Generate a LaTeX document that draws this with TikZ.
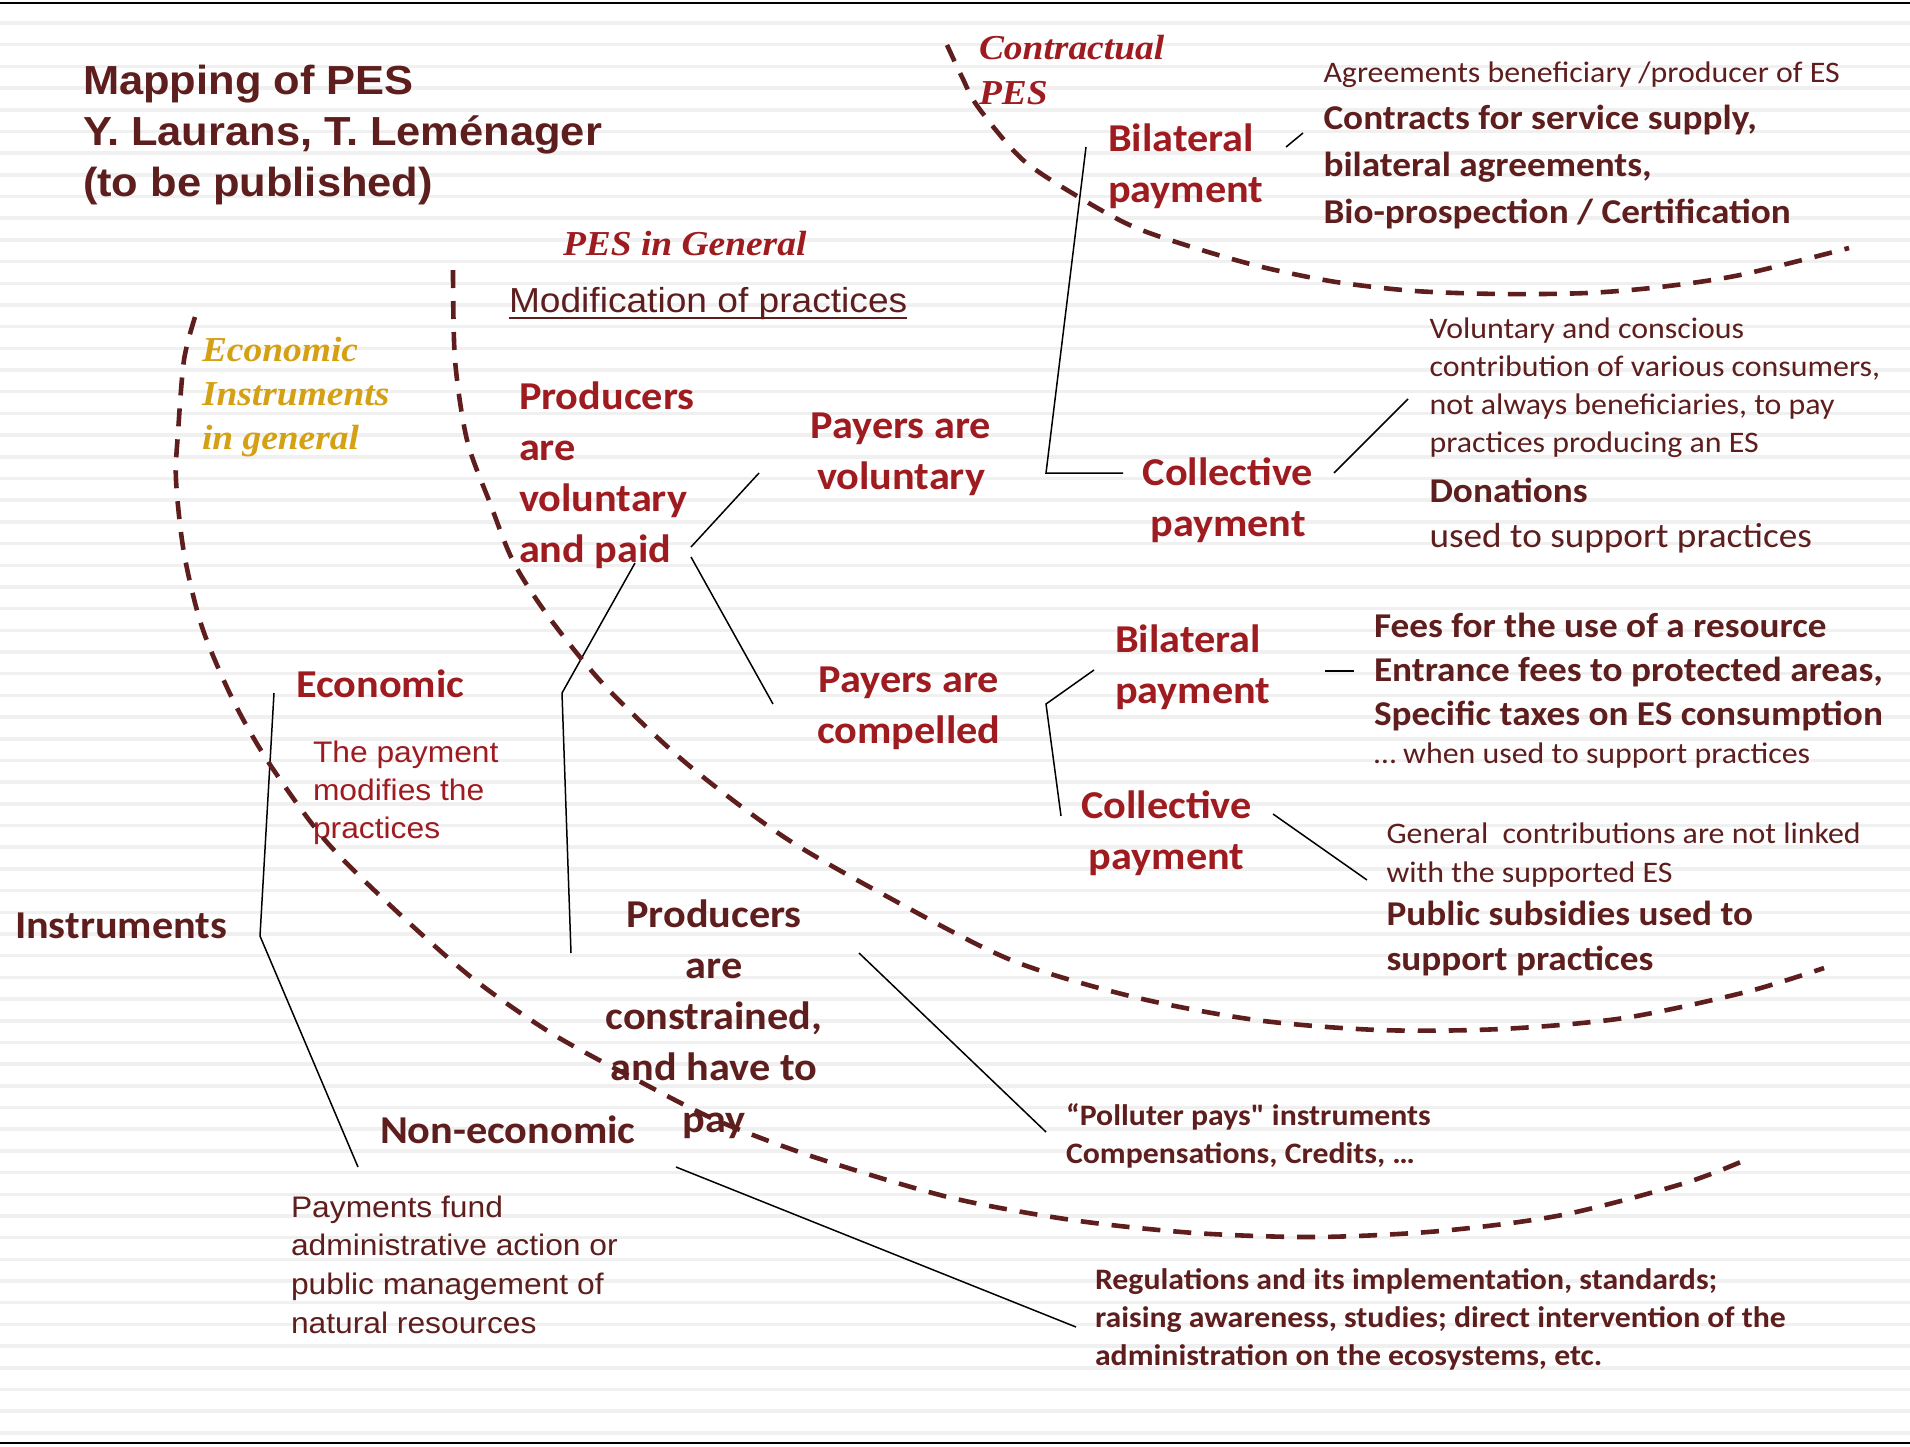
\documentclass[tikz,border=0pt]{standalone}
\usepackage{fontspec}
\newfontfamily\fsans{Liberation Sans}[FakeStretch=1.07]
\newfontfamily\fser{Liberation Serif}[FakeStretch=1.07]
\newfontfamily\fcal{Carlito}[FakeStretch=1.07]
\definecolor{dbrown}{RGB}{94,30,30}
\definecolor{pesred}{RGB}{158,27,32}
\definecolor{gold}{RGB}{212,160,20}
\tikzset{
  every node/.style={inner sep=0pt, outer sep=0pt},
  ttl/.style={font=\fsans\bfseries\fontsize{40.6}{51}\selectfont, text=dbrown, align=left, anchor=base west},
  itl/.style={font=\fser\bfseries\itshape\fontsize{35}{45}\selectfont, align=left, anchor=base west},
  bigl/.style={font=\fcal\bfseries\fontsize{39.5}{51.3}\selectfont, align=left, anchor=base west},
  bigc/.style={font=\fcal\bfseries\fontsize{39.5}{51.3}\selectfont, align=center, anchor=base},
  arl/.style={font=\fsans\fontsize{29.7}{38.4}\selectfont, align=left, anchor=base west},
  sreg/.style={font=\fcal\fontsize{29.8}{38.3}\selectfont, text=dbrown, align=left, anchor=base west},
  sbold/.style={font=\fcal\bfseries\fontsize{29.7}{38}\selectfont, text=dbrown, align=left, anchor=base west},
  mbold/.style={font=\fcal\bfseries\fontsize{34.8}{47}\selectfont, text=dbrown, align=left, anchor=base west},
  conn/.style={line width=1.5pt, black},
  dasharc/.style={line width=4.6pt, dbrown, dash pattern=on 18pt off 13pt},
  stripe/.style={line width=3.5pt, black!6},
}
\begin{document}
\begin{tikzpicture}[x=1pt,y=-1pt]
\useasboundingbox (0,0) rectangle (1910,1446);
\fill[white] (0,0) rectangle (1910,1446);
\foreach \k in {0,...,65} \draw[stripe] (0,23+21.69*\k) -- (1910,23+21.69*\k);
\draw[line width=2pt] (0,3) -- (1910,3);
\draw[line width=2pt] (0,1443) -- (1910,1443);

% titles and headings (multi-line nodes: base = last line)
\node[ttl] (title) at (83,196) {Mapping of PES\\Y. Laurans, T. Leménager\\(to be published)};
\node[itl, text=pesred] (contract) at (979,104) {Contractual\\PES};
\node[itl, text=pesred] (pesgen) at (563,255) {PES in General};
\node[itl, text=gold, font=\fser\bfseries\itshape\fontsize{35}{44}\selectfont] (econinst) at (202,449) {Economic\\Instruments\\in general};
\node[font=\fsans\fontsize{34.7}{40}\selectfont, text=dbrown, anchor=base west] (modif) at (509,312) {Modification of practices};
\draw[dbrown, line width=2.5pt] ([yshift=-6pt]modif.base west) -- ([yshift=-6pt]modif.base east);

% main tree labels
\node[bigl, text=pesred] (prodvol) at (519,562.9) {Producers\\are\\voluntary\\and paid};
\node[bigc, text=pesred] (payvol) at (901,489.3) {Payers are\\voluntary};
\node[bigc, text=pesred] (paycomp) at (909,743.3) {Payers are\\compelled};
\node[bigl, text=pesred] (bilat1) at (1108,202.3) {Bilateral\\payment};
\node[bigc, text=pesred] (coll1) at (1228,536.3) {Collective\\payment};
\node[bigl, text=pesred] (bilat2) at (1115,703.3) {Bilateral\\payment};
\node[bigc, text=pesred] (coll2) at (1166.5,869.3) {Collective\\payment};
\node[bigl, text=pesred] (econ) at (296,697) {Economic};
\node[arl, text=pesred] (modifies) at (313,838.8) {The payment\\modifies the\\practices};
\node[bigl, text=dbrown] (instr) at (15,938) {Instruments};
\node[bigl, text=dbrown] (noneco) at (380,1143) {Non-economic};
\node[bigc, text=dbrown] (prodcons) at (714,1132.2) {Producers\\are\\constrained,\\and have to\\pay};
\node[arl, text=dbrown, font=\fsans\fontsize{29.7}{38.7}\selectfont] (fund) at (291,1333.1) {Payments fund\\administrative action or\\public management of\\natural resources};

% right-hand descriptions
\node[sreg] (agree) at (1323.5,82) {Agreements beneficiary /producer of ES};
\node[mbold] (contracts) at (1323.5,223) {Contracts for service supply,\\bilateral agreements,\\Bio-prospection / Certification};
\node[sreg] (volcons) at (1429.5,452.9) {Voluntary and conscious\\contribution of various consumers,\\not always beneficiaries, to pay\\practices producing an ES};
\node[mbold] (donations) at (1429.5,502) {Donations};
\node[sreg, font=\fcal\fontsize{34.8}{40}\selectfont] (usedsup) at (1429.5,547) {used to support practices};
\node[mbold, font=\fcal\bfseries\fontsize{34.8}{44}\selectfont] (fees) at (1374,725) {Fees for the use of a resource\\Entrance fees to protected areas,\\Specific taxes on ES consumption};
\node[sreg] (whenused) at (1374,763) {… when used to support practices};
\node[sreg, font=\fcal\fontsize{29.8}{39}\selectfont] (general) at (1386.6,882) {General\ \ contributions are not linked\\with the supported ES};
\node[mbold, font=\fcal\bfseries\fontsize{34.8}{45}\selectfont] (subsid) at (1386.6,970) {Public subsidies used to\\support practices};
\node[sbold] (polluter) at (1066,1163) {“Polluter pays" instruments\\Compensations, Credits, …};
\node[sbold] (regul) at (1095,1365) {Regulations and its implementation, standards;\\raising awareness, studies; direct intervention of the\\administration on the ecosystems, etc.};

% connector end points
\coordinate (ia) at (274,693);
\coordinate (ib) at (260,936);
\coordinate (ic) at (358,1167);
\coordinate (pa) at (691,547);
\coordinate (pb) at (759,473);
\coordinate (pc) at (691,557);
\coordinate (pd) at (773,704);
\coordinate (pe) at (635,563);
\coordinate (pf) at (562,693);
\coordinate (pg) at (571,953);
\coordinate (va) at (1086,147);
\coordinate (vb) at (1046,473);
\coordinate (vc) at (1123,473);
\coordinate (ba) at (1286,147);
\coordinate (bb) at (1303,133);
\coordinate (ca) at (1334,473);
\coordinate (cb) at (1408,399);
\coordinate (ka) at (1094,670);
\coordinate (kb) at (1046,704);
\coordinate (kc) at (1061,816);
\coordinate (ea) at (1325,671);
\coordinate (eb) at (1354,671);
\coordinate (ga) at (1273,814);
\coordinate (gb) at (1367,880);
\coordinate (ua) at (859,953);
\coordinate (ub) at (1046,1132);
\coordinate (na) at (676,1167);
\coordinate (nb) at (1076,1327);

\draw[conn] (ia) -- (ib) -- (ic);
\draw[conn] (pa) -- (pb);
\draw[conn] (pc) -- (pd);
\draw[conn] (pe) -- (pf) -- (pg);
\draw[conn] (va) -- (vb) -- (vc);
\draw[conn] (ba) -- (bb);
\draw[conn] (ca) -- (cb);
\draw[conn] (ka) -- (kb) -- (kc);
\draw[conn] (ea) -- (eb);
\draw[conn] (ga) -- (gb);
\draw[conn] (ua) -- (ub);
\draw[conn] (na) -- (nb);

% dashed boundaries
\draw[dasharc] plot[smooth] coordinates {(947,45) (962,77) (978,107) (1023,160) (1082,199) (1134,227) (1195,248) (1262,267) (1336,282) (1415,291) (1501,294) (1587,293) (1660,287) (1740,275) (1849,248)};
\draw[dasharc] plot[smooth] coordinates {(453,270) (455,360) (467,440) (490,503) (514,563) (551,620) (606,687) (686,763) (784,837) (888,897) (1011,960) (1134,997) (1256,1020) (1379,1030) (1501,1029) (1624,1018) (1746,992) (1824,968)};
\draw[dasharc] plot[smooth] coordinates {(195,317) (184,360) (178,433) (176,480) (184,553) (202,627) (233,700) (269,763) (325,840) (392,907) (471,977) (551,1033) (637,1080) (716,1120) (814,1157) (948,1197) (1072,1220) (1195,1233) (1317,1237) (1440,1231) (1562,1215) (1685,1183) (1750,1158)};
\end{tikzpicture}
\end{document}
